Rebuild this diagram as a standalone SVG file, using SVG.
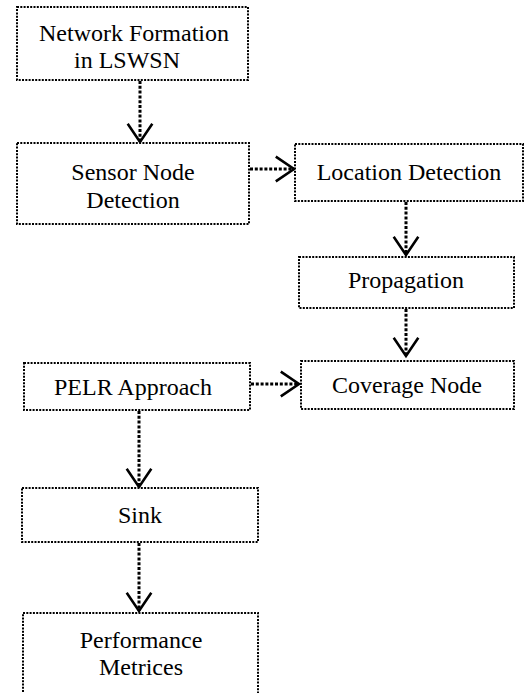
<svg xmlns="http://www.w3.org/2000/svg" width="524" height="693" viewBox="0 0 524 693">
<style>
.box{fill:#fff;stroke:#000;stroke-width:2;stroke-dasharray:2 1.3;}
.lbl{font-family:'Liberation Serif','DejaVu Serif','Times New Roman',serif;font-size:24px;fill:#000;text-anchor:middle;}
.edge{fill:none;stroke:#000;stroke-width:3;stroke-dasharray:3 1.8;}
</style>
<defs>
<marker id="ah" markerUnits="userSpaceOnUse" markerWidth="30" markerHeight="30" viewBox="-20 -14 22 28" refX="0" refY="0" orient="auto">
<path d="M-17,-11.5 L0,0 L-17,11.5" fill="none" stroke="#000" stroke-width="2.4"/>
</marker>
</defs>
<rect width="524" height="693" fill="#fff"/>
<g id="connectors">
<line class="edge" x1="140" y1="81" x2="140" y2="142" marker-end="url(#ah)"/>
<line class="edge" x1="250" y1="169" x2="294" y2="169" marker-end="url(#ah)"/>
<line class="edge" x1="406" y1="202" x2="406" y2="255" marker-end="url(#ah)"/>
<line class="edge" x1="406" y1="309" x2="406" y2="356" marker-end="url(#ah)"/>
<line class="edge" x1="251" y1="384" x2="299" y2="384" marker-end="url(#ah)"/>
<line class="edge" x1="139" y1="411" x2="139" y2="487" marker-end="url(#ah)"/>
<line class="edge" x1="139" y1="543" x2="139" y2="611" marker-end="url(#ah)"/>
</g>
<g id="network-formation">
<rect class="box" x="17" y="7" width="231" height="73"/>
<text class="lbl" x="134" y="41" font-family="Liberation Serif, serif">Network Formation</text>
<text class="lbl" x="127" y="68" font-family="Liberation Serif, serif">in LSWSN</text>
</g>
<g id="sensor-node-detection">
<rect class="box" x="17" y="143" width="232" height="81"/>
<text class="lbl" x="133" y="180">Sensor Node</text>
<text class="lbl" x="133" y="208">Detection</text>
</g>
<g id="location-detection">
<rect class="box" x="295" y="144" width="228" height="57"/>
<text class="lbl" x="409" y="180">Location Detection</text>
</g>
<g id="propagation">
<rect class="box" x="299" y="257" width="215" height="51"/>
<text class="lbl" x="406" y="288">Propagation</text>
</g>
<g id="coverage-node">
<rect class="box" x="301" y="361" width="213" height="48"/>
<text class="lbl" x="407" y="393">Coverage Node</text>
</g>
<g id="pelr-approach">
<rect class="box" x="24" y="363" width="226" height="47"/>
<text class="lbl" x="133" y="395">PELR Approach</text>
</g>
<g id="sink">
<rect class="box" x="22" y="488" width="236" height="54"/>
<text class="lbl" x="140" y="523">Sink</text>
</g>
<g id="performance-metrices">
<rect class="box" x="23" y="613" width="235" height="90"/>
<text class="lbl" x="141" y="648">Performance</text>
<text class="lbl" x="141" y="675">Metrices</text>
</g>
</svg>
